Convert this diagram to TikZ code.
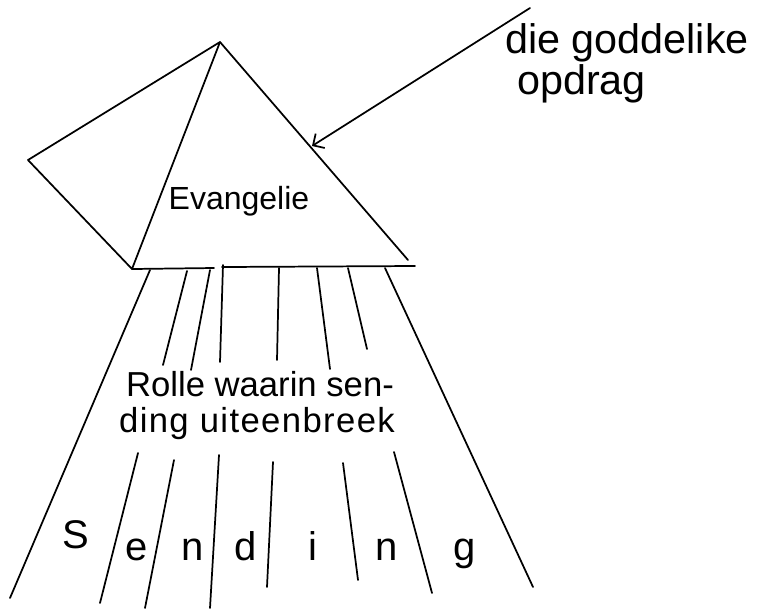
\documentclass[tikz,border=0pt]{standalone}
\usepackage{fontspec}
\setmainfont{Liberation Sans}
\usepackage{tikz}
\usetikzlibrary{arrows.meta, calc}

\begin{document}
\begin{tikzpicture}[x=0.75pt, y=-0.75pt,
  pen/.style={line width=1.3pt, line cap=round, line join=round},
  hand/.style={inner sep=0pt, anchor=base, font=\fontsize{#1}{#1}\selectfont},
]
\useasboundingbox (0,0) rectangle (773,608);
% prism
\coordinate (apex) at (220,42);
\coordinate (wing) at (28,160);
\coordinate (bl) at (132,269);
\coordinate (br) at (408,260);
\coordinate (gapl) at (214,268);
\coordinate (gapr) at (222,267);
\coordinate (be) at (415,266);
\draw[pen] (apex) -- (wing) -- (bl) -- cycle;
\draw[pen] (apex) -- (br);
\draw[pen] (bl) -- (gapl);
\draw[pen] (gapr) -- (be);
% incoming ray
\coordinate (src) at (530,8);
\coordinate (hit) at (312,146);
\draw[pen, -{Straight Barb[angle=90:9pt]}] (src) -- (hit);
\node[hand=31, anchor=base west] (opdrag1) at (505,53) {die goddelike};
\node[hand=31, anchor=base west] (opdrag2) at (517,94) {opdrag};
\node[hand=24] (evangelie) at (239,209) {Evangelie};
% rays below the prism
\foreach \xa/\ya/\xb/\yb in {150/270/10/598, 187/271/163/365, 210/270/191/370, 223/265/220/362,
  279/268/277/360, 317/268/330/369, 348/268/367/349, 385/268/533/587,
  138/453/100/603, 174/460/145/608, 219/455/210/608, 273/462/267/587,
  343/463/358/580, 394/452/432/593}
  \draw[pen] (\xa,\ya) -- (\xb,\yb);
\node[hand=26] (rolle1) at (260,396) {Rolle waarin sen-};
\node[hand=26] (rolle2) at (257,432) {\addfontfeature{LetterSpace=4}ding uiteenbreek};
\foreach \ch/\x/\y [count=\i] in {S/76/548, e/137/560, n/193/560, d/246/560, i/313/560, n/387/560, g/465/560}
  \node[hand=30] (letter\i) at (\x,\y) {\ch};
\end{tikzpicture}
\end{document}
